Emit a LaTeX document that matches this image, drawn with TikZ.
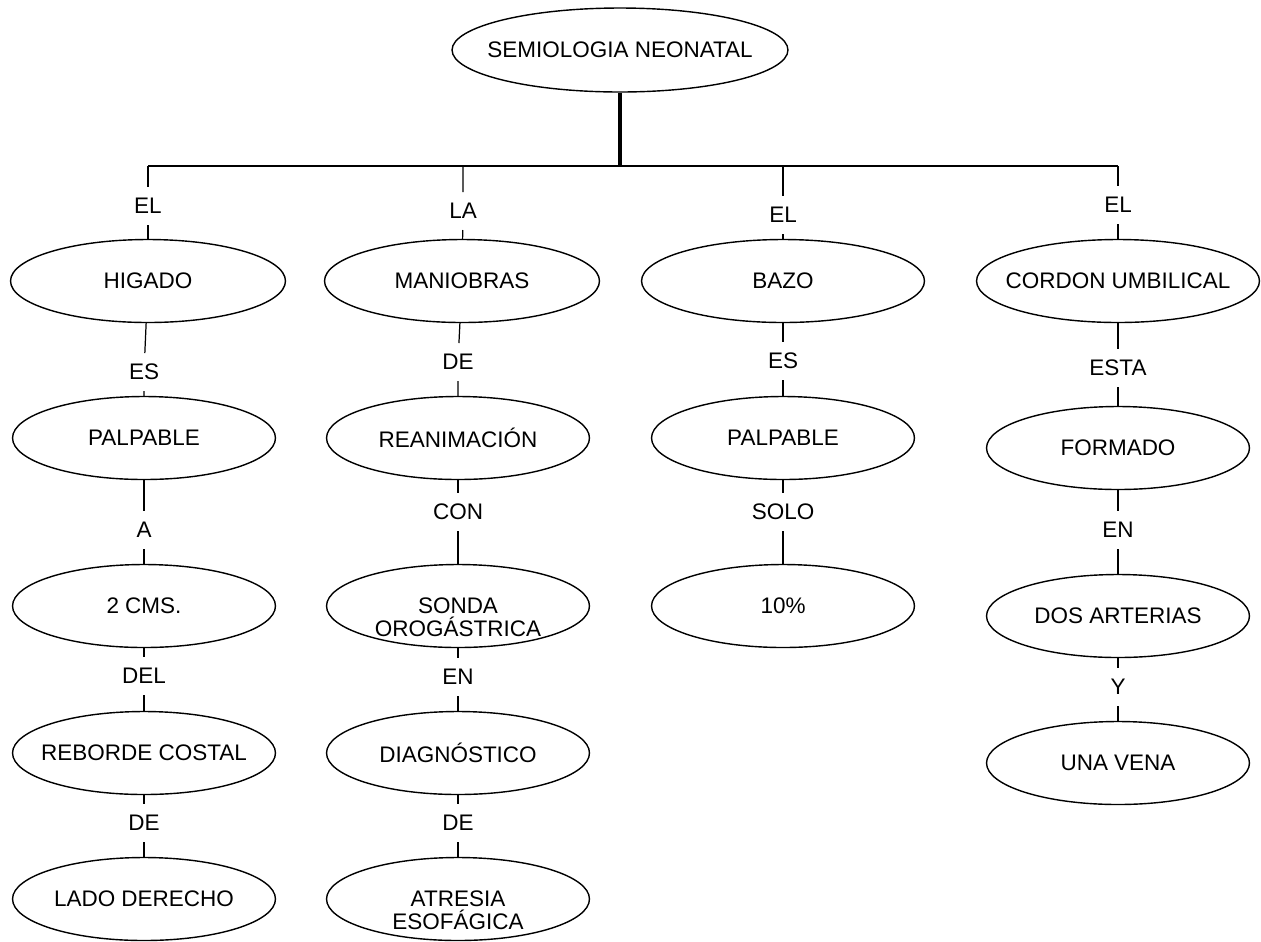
\documentclass[tikz,border=0pt]{standalone}
\usepackage{fontspec}
\setmainfont{Liberation Sans}
\usetikzlibrary{shapes.geometric}

\begin{document}
\begin{tikzpicture}[
        x=0.02cm, y=-0.02cm,
        font=\fontsize{12.8}{13.2}\selectfont,
        % Concept ovals (text sits in a label so the oval keeps its size)
        concepto/.style={
            ellipse, draw=black, line width=0.8pt,
            minimum width=5.26cm, minimum height=1.66cm,
            inner sep=0pt
        },
        % Wider ovals of the first row
        cabeza/.style={concepto, minimum width=5.5cm},
        % Linking words: the box leaves the gap in the line
        enlace/.style={
            rectangle, inner sep=0pt, outer sep=0pt,
            minimum width=0.9cm, minimum height=0.76cm
        },
        linea/.style={draw=black, line width=0.7pt},
        tronco/.style={draw=black, line width=1.8pt},
        dos lineas/.style={align=center, yshift=-0.23cm}
    ]
        \useasboundingbox (0,0) rectangle (1261,941);

        % Root
        \node[concepto, minimum width=6.72cm, minimum height=1.68cm,
              label={center:SEMIOLOGIA NEONATAL}] (raiz) at (620,50) {};

        % Bus
        \coordinate (bus) at (620,166);
        \coordinate (b1) at (148,166);
        \coordinate (b2) at (463,166);
        \coordinate (b3) at (783,166);
        \coordinate (b4) at (1118,166);

        % First row
        \node[cabeza, label={center:HIGADO}] (higado) at (148,281) {};
        \node[cabeza, label={center:MANIOBRAS}] (maniobras) at (462,281) {};
        \node[cabeza, minimum width=5.66cm, label={center:BAZO}] (bazo) at (783,281) {};
        \node[cabeza, minimum width=5.66cm, label={center:CORDON UMBILICAL}] (cordon) at (1118,281) {};

        % Column 1
        \node[concepto, label={center:PALPABLE}] (palpableA) at (144,438) {};
        \node[concepto, label={center:2 CMS.}] (cms) at (144,606) {};
        \node[concepto, label={center:REBORDE COSTAL}] (reborde) at (144,753) {};
        \node[concepto, label={center:LADO DERECHO}] (lado) at (144,899) {};

        % Column 2
        \node[concepto, label={center:REANIMACIÓN}] (reanimacion) at (458,438) {};
        \node[concepto, label={[dos lineas]center:SONDA\\OROGÁSTRICA}] (sonda) at (458,606) {};
        \node[concepto, label={center:DIAGNÓSTICO}] (diagnostico) at (458,753) {};
        \node[concepto, label={[dos lineas]center:ATRESIA\\ESOFÁGICA}] (atresia) at (458,899) {};

        % Column 3
        \node[concepto, label={center:PALPABLE}] (palpableB) at (783,438) {};
        \node[concepto, label={center:10\%}] (diez) at (783,606) {};

        % Column 4
        \node[concepto, label={center:FORMADO}] (formado) at (1118,448) {};
        \node[concepto, label={center:DOS ARTERIAS}] (arterias) at (1118,616) {};
        \node[concepto, label={center:UNA VENA}] (vena) at (1118,763) {};

        % Linking words
        \node[enlace] (elA) at (148,206) {EL};
        \node[enlace] (esA) at (144,372) {ES};
        \node[enlace] (a) at (144,530) {A};
        \node[enlace] (del) at (144,676) {DEL};
        \node[enlace] (deA) at (144,823) {DE};

        \node[enlace] (la) at (463,211) {LA};
        \node[enlace] (deB) at (458,362) {DE};
        \node[enlace] (con) at (458,512) {CON};
        \node[enlace] (enA) at (458,677) {EN};
        \node[enlace] (deC) at (458,823) {DE};

        \node[enlace] (elB) at (783,215) {EL};
        \node[enlace] (esB) at (783,361) {ES};
        \node[enlace] (solo) at (783,512) {SOLO};

        \node[enlace] (elC) at (1118,205) {EL};
        \node[enlace] (esta) at (1118,368) {ESTA};
        \node[enlace] (enB) at (1118,530) {EN};
        \node[enlace] (y) at (1118,687) {Y};

        % Trunk and bus
        \draw[tronco] (raiz) -- (bus);
        \draw[linea] (b1) -- (b4);

        % Connections
        \draw[linea] (b1) -- (elA) -- (higado);
        \draw[linea] (higado) -- (esA) -- (palpableA);
        \draw[linea] (palpableA) -- (a) -- (cms);
        \draw[linea] (cms) -- (del) -- (reborde);
        \draw[linea] (reborde) -- (deA) -- (lado);

        \draw[linea] (b2) -- (la) -- (maniobras);
        \draw[linea] (maniobras) -- (deB) -- (reanimacion);
        \draw[linea] (reanimacion) -- (con) -- (sonda);
        \draw[linea] (sonda) -- (enA) -- (diagnostico);
        \draw[linea] (diagnostico) -- (deC) -- (atresia);

        \draw[linea] (b3) -- (elB) -- (bazo);
        \draw[linea] (bazo) -- (esB) -- (palpableB);
        \draw[linea] (palpableB) -- (solo) -- (diez);

        \draw[linea] (b4) -- (elC) -- (cordon);
        \draw[linea] (cordon) -- (esta) -- (formado);
        \draw[linea] (formado) -- (enB) -- (arterias);
        \draw[linea] (arterias) -- (y) -- (vena);

    \end{tikzpicture}
\end{document}
